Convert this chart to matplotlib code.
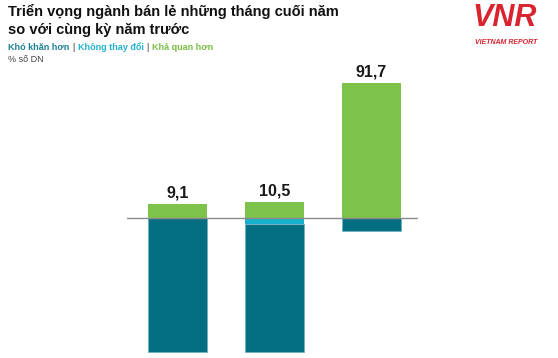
import matplotlib
matplotlib.use("Agg")
import matplotlib.pyplot as plt
import numpy as np

# data (% of enterprises)
groups = ["A", "B", "C"]
kho_khan = [92.0, 87.0, 9.2]       # Khó khăn hơn (drawn below zero)
khong_doi = [0.0, 4.6, 0.0]        # Không thay đổi
kha_quan = [9.1, 10.5, 91.7]       # Khả quan hơn
value_labels = ["9,1", "10,5", "91,7"]

C_DARK = "#046f82"
C_CYAN = "#17b0cc"
C_GREEN = "#7dc24a"
C_RED = "#d9232e"

fig = plt.figure(figsize=(5.58, 3.58), dpi=100)
W, H = 558, 358

# axes placed in pixel coords: left 127, right 418, top 60, bottom 358
ax = fig.add_axes([127 / W, 0, (418 - 127) / W, (358 - 60) / H])
x = np.arange(len(groups))
neg1 = -np.array(khong_doi)
neg2 = -np.array(kho_khan)
ax.bar(x, neg1, width=0.6, color=C_CYAN, linewidth=0)
ax.bar(x, neg2, bottom=neg1, width=0.6, color=C_DARK,
       edgecolor="#6fb3c2", linewidth=0.6)
ax.bar(x, kha_quan, width=0.6, color=C_GREEN, linewidth=0)
ax.axhline(0, color="#8a8a8a", lw=1.0)

for xi, v, lab in zip(x, kha_quan, value_labels):
    ax.text(xi, v + 2.5, lab, ha="center", va="bottom", fontsize=11.5,
            fontweight="bold", family="Liberation Sans", color="#1a1a1a")

ax.set_xlim(-0.52, 2.48)
ax.set_ylim(-95.8, 107.4)
ax.axis("off")

# title block
fig.text(8 / W, 1 - 4 / H, "Triển vọng ngành bán lẻ những tháng cuối năm\nso với cùng kỳ năm trước",
         ha="left", va="top", fontsize=10.5, fontweight="bold", color="#111111",
         family="Liberation Sans", linespacing=1.4)

# legend line
parts = [("Khó khăn hơn", "#1a8195"), ("|", "#777777"),
         ("Không thay đổi", "#22b2cf"), ("|", "#777777"),
         ("Khả quan hơn", "#79bf45")]
r = fig.canvas.get_renderer()
xpos = 8 / W
for s, c in parts:
    t = fig.text(xpos, 1 - 50 / H, s, ha="left", va="baseline", fontsize=6.5,
                 fontweight="bold", color=c, family="Liberation Sans")
    bb = t.get_window_extent(renderer=r)
    xpos += (bb.width + 3) / W

fig.text(8 / W, 1 - 62 / H, "% số DN", ha="left", va="baseline", fontsize=6.5,
         color="#444444", family="Liberation Sans")

# logo
fig.text(505 / W, 1 - 18 / H, "VNR", ha="center", va="center", fontsize=22,
         fontweight="bold", style="italic", color=C_RED, family="Liberation Sans")
fig.text(506 / W, 1 - 42 / H, "VIETNAM REPORT", ha="center", va="center",
         fontsize=5, fontweight="bold", style="italic", color=C_RED,
         family="Liberation Sans")

fig.savefig("out.png", dpi=100)
